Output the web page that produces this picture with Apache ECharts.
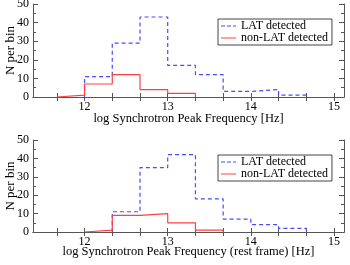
<!DOCTYPE html>
<html><head><meta charset="utf-8">
<script src="https://cdn.jsdelivr.net/npm/echarts@6/dist/echarts.min.js"></script>
<style>html,body{margin:0;padding:0;background:#fff}#c{width:350px;height:265px}</style>
</head><body><div id="c"></div>
<script>
// bin edges (log nu, width 1/3 dex)
var binEdges = [11.6667, 12, 12.3333, 12.6667, 13, 13.3333, 13.6667, 14, 14.3333, 14.6667];
// counts per bin (bin i spans binEdges[i]..binEdges[i+1])
var topLAT    = [0, 11, 29, 43, 17, 12, 3, 4, 1];
var topNonLAT = [1, 7, 12, 4, 2, 0, 0, 0, 0];
var botLAT    = [0, 0, 11, 35, 42, 18, 7, 4, 2];
var botNonLAT = [0, 1, 9, 10, 5, 1, 0, 0, 0];
var xTickLabels = [12, 13, 14, 15];
var xTicks = [11.6667, 12, 12.3333, 12.6667, 13, 13.3333, 13.6667, 14, 14.3333, 14.6667, 15];
var xTitleTop = 'log Synchrotron Peak Frequency [Hz]';
var xTitleBot = 'log Synchrotron Peak Frequency (rest frame) [Hz]';
var yTitle = 'N per bin';
var names = ['LAT detected', 'non-LAT detected'];

function histPoints(counts) {
  var first = 0, last = counts.length - 1;
  while (first < counts.length && counts[first] === 0) first++;
  while (last > 0 && counts[last] === 0) last--;
  var pts = [[binEdges[first], 0]];
  for (var i = first; i <= last; i++) {
    pts.push([binEdges[i], counts[i]]);
    pts.push([binEdges[i + 1], counts[i]]);
  }
  pts.push([binEdges[last + 1], 0]);
  return pts;
}

var font = 'Liberation Serif';
var axCol = '#555';
var BLUE = '#4a4aff', RED = '#ff4040';
var XMIN = 11.38, XMAX = 15.12, XINT = 0.02;
var grids = [
  {left: 33, top: 4, width: 311, height: 93, outerBoundsMode: 'none', containLabel: false},
  {left: 33, top: 140, width: 311, height: 92, outerBoundsMode: 'none', containLabel: false}
];
var titleGaps = [15.5, 13.5];
var dashIcon = 'path://M0,0h4v1h-4zM6,0h4v1h-4zM12,0h3v1h-3z';
var solidIcon = 'path://M0,0h15v1h-15z';
var xAxes = [], yAxes = [], series = [], legends = [];
var panels = [[topLAT, topNonLAT, xTitleTop], [botLAT, botNonLAT, xTitleBot]];
panels.forEach(function (p, g) {
  xAxes.push({
    type: 'value', gridIndex: g, min: XMIN, max: XMAX, interval: XINT, position: 'bottom',
    name: p[2], nameLocation: 'middle', nameGap: titleGaps[g], nameMoveOverlap: false,
    nameTextStyle: {fontFamily: font, fontSize: 12.5, color: '#000'},
    axisLine: {show: true, lineStyle: {color: axCol, width: 1}},
    axisTick: {show: true, inside: true, length: 4, customValues: xTicks, lineStyle: {color: axCol}},
    axisLabel: {show: true, customValues: xTickLabels, fontFamily: font, fontSize: 12, color: '#000', margin: 4},
    splitLine: {show: false}
  });
  xAxes.push({
    type: 'value', gridIndex: g, min: XMIN, max: XMAX, interval: XINT, position: 'top',
    axisLine: {show: true, lineStyle: {color: axCol, width: 1}},
    axisTick: {show: true, inside: true, length: 4, customValues: xTicks, lineStyle: {color: axCol}},
    axisLabel: {show: false}, splitLine: {show: false}
  });
  yAxes.push({
    type: 'value', gridIndex: g, min: 0, max: 50, interval: 10, position: 'left',
    name: yTitle, nameLocation: 'middle', nameGap: 16, nameRotate: 90, nameMoveOverlap: false,
    nameTextStyle: {fontFamily: font, fontSize: 13, color: '#000'},
    axisLine: {show: true, lineStyle: {color: axCol, width: 1}},
    axisTick: {show: true, inside: true, length: 5, lineStyle: {color: axCol}},
    minorTick: {show: true, splitNumber: 2, length: 3, lineStyle: {color: axCol}},
    axisLabel: {fontFamily: font, fontSize: 12, color: '#000', margin: 4},
    splitLine: {show: false}
  });
  yAxes.push({
    type: 'value', gridIndex: g, min: 0, max: 50, interval: 10, position: 'right',
    axisLine: {show: true, lineStyle: {color: axCol, width: 1}},
    axisTick: {show: true, inside: true, length: 5, lineStyle: {color: axCol}},
    minorTick: {show: true, splitNumber: 2, length: 3, lineStyle: {color: axCol}},
    axisLabel: {show: false}, splitLine: {show: false}
  });
  series.push({
    name: names[0], type: 'line', xAxisIndex: 2 * g, yAxisIndex: 2 * g,
    data: histPoints(p[0]), symbol: 'none', animation: false,
    lineStyle: {color: BLUE, width: 1.2, type: [4, 3]}, itemStyle: {color: BLUE}, z: 2
  });
  series.push({
    name: names[1], type: 'line', xAxisIndex: 2 * g, yAxisIndex: 2 * g,
    data: histPoints(p[1]), symbol: 'none', animation: false,
    lineStyle: {color: RED, width: 1.2, type: 'solid'}, itemStyle: {color: RED}, z: 3
  });
  legends.push({
    data: [{name: names[0], icon: dashIcon}, {name: names[1], icon: solidIcon}],
    orient: 'vertical', left: 218, top: grids[g].top + 15,
    padding: [1, 4, 1, 3], itemGap: 0, itemWidth: 15, itemHeight: 1.2,
    borderColor: '#444', borderWidth: 1, backgroundColor: '#fff', borderRadius: 0,
    textStyle: {fontFamily: font, fontSize: 12, color: '#000', padding: [0, 0, 0, 0], lineHeight: 12},
    selectedMode: false
  });
});

var chart = echarts.init(document.getElementById('c'), null, {renderer: 'canvas'});
chart.setOption({
  animation: false,
  backgroundColor: '#fff',
  grid: grids,
  xAxis: xAxes,
  yAxis: yAxes,
  legend: legends,
  series: series
});
</script></body></html>
